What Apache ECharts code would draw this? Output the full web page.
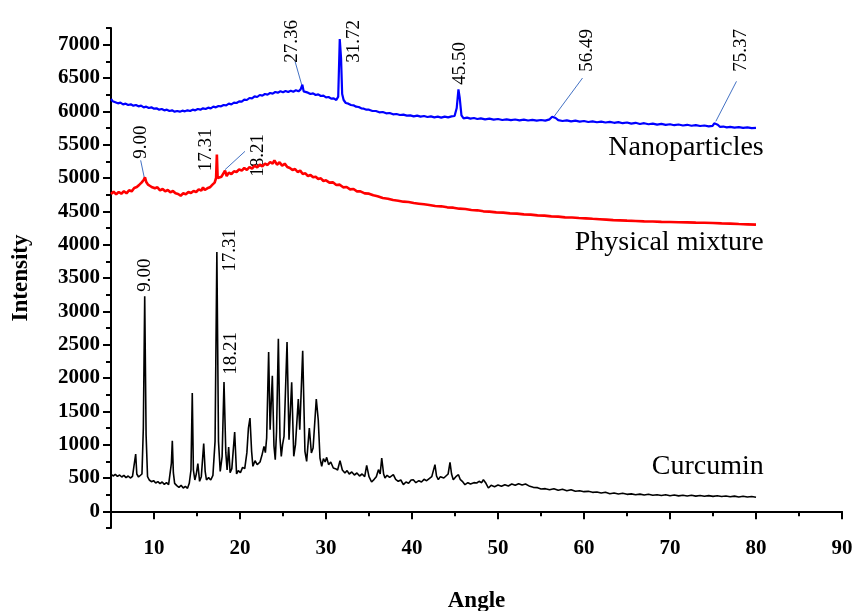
<!DOCTYPE html>
<html>
<head>
<meta charset="utf-8">
<script src="https://cdn.jsdelivr.net/npm/echarts@6/dist/echarts.min.js"></script>
<style>
  html, body { margin: 0; padding: 0; background: #fff; }
  #chart { width: 853px; height: 611px; }
</style>
</head>
<body>
<div id="chart"></div>
<script>
// XRD patterns: [angle, intensity]
const curcumin = [
  [5.0,560],[5.25,530],[5.5,555],[5.75,525],[6.0,545],[6.25,515],[6.5,540],[6.75,505],[7.0,530],[7.25,500],[7.5,525],[7.7,540],[7.87,860],[8.0,560],[8.2,515],[8.4,495],[8.6,560],[8.76,1250],[8.92,3225],[9.08,1150],[9.25,520],[9.45,470],[9.7,445],[9.95,460],[10.2,425],[10.45,445],[10.7,415],[10.95,440],[11.2,405],[11.45,430],[11.7,400],[11.9,430],[12.02,720],[12.13,1060],[12.25,580],[12.4,420],[12.65,385],[12.9,360],[13.15,390],[13.4,350],[13.65,375],[13.9,345],[14.1,420],[14.3,620],[14.45,1775],[14.58,620],[14.75,470],[14.92,560],[15.1,715],[15.3,450],[15.5,520],[15.78,1015],[15.95,600],[16.1,470],[16.35,505],[16.6,470],[16.85,540],[17.1,1050],[17.31,3890],[17.5,1050],[17.7,600],[17.92,820],[18.14,1940],[18.35,880],[18.5,620],[18.68,965],[18.85,580],[19.05,640],[19.38,1190],[19.6,560],[19.8,610],[20.05,580],[20.3,660],[20.55,640],[20.8,880],[20.98,1250],[21.16,1400],[21.35,900],[21.5,675],[21.75,760],[22.0,700],[22.33,740],[22.55,840],[22.79,975],[22.95,880],[23.1,1100],[23.33,2390],[23.5,1225],[23.76,2035],[23.95,980],[24.1,775],[24.25,1200],[24.46,2590],[24.65,1100],[24.8,825],[24.95,1000],[25.12,1125],[25.47,2540],[25.7,1075],[26.01,1935],[26.25,825],[26.45,1000],[26.78,1685],[26.95,1225],[27.29,2410],[27.55,900],[27.75,750],[28.06,1250],[28.3,875],[28.5,950],[28.87,1685],[29.1,1370],[29.3,800],[29.5,675],[29.7,790],[29.9,740],[30.08,810],[30.3,700],[30.55,740],[30.85,650],[31.1,640],[31.35,620],[31.63,760],[31.9,620],[32.2,575],[32.45,610],[32.7,560],[33.0,590],[33.3,545],[33.6,575],[33.9,530],[34.2,560],[34.5,520],[34.73,690],[35.0,520],[35.3,440],[35.6,480],[35.85,520],[36.1,625],[36.3,560],[36.48,800],[36.7,560],[36.86,500],[37.1,540],[37.4,510],[37.83,550],[38.1,480],[38.4,450],[38.7,470],[39.0,400],[39.3,440],[39.6,420],[39.9,470],[40.15,475],[40.45,430],[40.8,460],[41.1,440],[41.4,480],[41.7,460],[42.0,490],[42.3,520],[42.67,700],[42.85,530],[43.06,475],[43.3,520],[43.45,550],[43.7,500],[43.95,530],[44.2,560],[44.42,735],[44.6,560],[44.8,475],[45.1,520],[45.4,550],[45.6,480],[45.85,450],[46.16,400],[46.5,430],[46.8,410],[47.2,430],[47.52,425],[47.8,450],[48.1,430],[48.3,475],[48.6,420],[48.88,350],[49.2,390],[49.6,370],[50.0,395],[50.4,375],[50.8,400],[51.2,380],[51.6,410],[52.0,390],[52.4,415],[52.8,395],[53.2,410],[53.7,375],[54.1,360],[54.6,355],[55.0,335],[55.5,340],[56.0,325],[56.5,340],[57.0,315],[57.5,330],[58.0,310],[58.5,325],[59.0,300],[59.5,310],[60.0,295],[60.5,300],[61.0,285],[61.5,290],[62.0,275],[62.5,285],[63.0,265],[63.5,275],[64.0,260],[64.5,270],[65.0,255],[65.5,262],[66.0,248],[66.5,258],[67.0,245],[67.5,255],[68.0,240],[68.5,250],[69.0,238],[69.5,248],[70.0,235],[70.5,245],[71.0,232],[71.5,242],[72.0,230],[72.5,240],[73.0,228],[73.5,238],[74.0,226],[74.5,236],[75.0,224],[75.5,234],[76.0,222],[76.5,230],[77.0,218],[77.5,228],[78.0,216],[78.5,226],[79.0,214],[79.5,222],[80.0,212]
];
const physicalMixture = [
  [5.0,4760],[5.3,4795],[5.6,4755],[5.9,4790],[6.2,4765],[6.5,4800],[6.8,4770],[7.1,4815],[7.4,4800],[7.7,4850],[8.0,4865],[8.3,4900],[8.55,4930],[8.8,4970],[8.95,5010],[9.1,4940],[9.3,4900],[9.55,4880],[9.8,4860],[10.1,4845],[10.4,4860],[10.7,4815],[11.0,4835],[11.3,4800],[11.6,4820],[11.9,4785],[12.2,4805],[12.5,4770],[12.8,4760],[13.1,4735],[13.4,4770],[13.7,4755],[14.0,4790],[14.3,4775],[14.6,4805],[14.9,4790],[15.2,4830],[15.5,4810],[15.7,4860],[15.9,4820],[16.2,4845],[16.5,4860],[16.8,4900],[17.05,4930],[17.22,5000],[17.31,5350],[17.4,5000],[17.6,4970],[17.85,5020],[18.05,5000],[18.26,5110],[18.45,5030],[18.7,5080],[19.0,5060],[19.3,5100],[19.6,5090],[19.9,5130],[20.2,5110],[20.5,5150],[20.8,5120],[21.1,5165],[21.4,5140],[21.7,5185],[22.0,5160],[22.3,5200],[22.6,5175],[22.9,5215],[23.2,5195],[23.5,5240],[23.8,5215],[24.0,5265],[24.3,5200],[24.6,5235],[24.9,5185],[25.2,5215],[25.5,5165],[25.8,5150],[26.1,5120],[26.4,5135],[26.7,5090],[27.0,5110],[27.3,5060],[27.6,5070],[27.9,5030],[28.2,5045],[28.5,5010],[28.8,5020],[29.1,4985],[29.4,4995],[29.7,4955],[30.0,4965],[30.4,4930],[30.8,4935],[31.2,4895],[31.6,4900],[32.0,4860],[32.4,4865],[32.8,4830],[33.2,4835],[33.6,4800],[34.0,4800],[34.5,4770],[35.0,4765],[35.5,4740],[36.0,4725],[36.6,4700],[37.2,4690],[37.8,4670],[38.4,4660],[39.0,4645],[39.6,4640],[40.2,4625],[40.8,4615],[41.4,4605],[42.0,4595],[42.7,4580],[43.4,4575],[44.1,4560],[44.8,4555],[45.5,4540],[46.2,4535],[46.9,4520],[47.6,4515],[48.3,4500],[49.0,4495],[49.8,4485],[50.6,4480],[51.4,4470],[52.2,4465],[53.0,4455],[53.8,4450],[54.6,4440],[55.4,4435],[56.2,4425],[57.0,4420],[57.8,4410],[58.6,4408],[59.4,4400],[60.2,4395],[61.0,4388],[61.8,4382],[62.6,4375],[63.4,4368],[64.2,4365],[65.0,4360],[66.0,4355],[67.0,4350],[68.0,4348],[69.0,4342],[70.0,4340],[71.0,4336],[72.0,4334],[73.0,4330],[74.0,4328],[75.0,4325],[76.0,4320],[77.0,4316],[78.0,4310],[79.0,4305],[80.0,4300]
];
const nanoparticles = [
  [5.0,6185],[5.2,6150],[5.5,6135],[5.8,6120],[6.1,6130],[6.4,6105],[6.7,6115],[7.0,6095],[7.3,6105],[7.6,6085],[7.9,6095],[8.2,6075],[8.5,6085],[8.8,6060],[9.1,6070],[9.4,6050],[9.7,6060],[10.0,6040],[10.3,6045],[10.6,6025],[10.9,6035],[11.2,6015],[11.5,6025],[11.8,6005],[12.1,6015],[12.4,5995],[12.7,6005],[13.0,5995],[13.3,6010],[13.6,6000],[13.9,6015],[14.2,6005],[14.5,6025],[14.8,6015],[15.1,6035],[15.4,6025],[15.7,6045],[16.0,6035],[16.3,6055],[16.6,6045],[16.9,6070],[17.2,6060],[17.5,6080],[17.8,6075],[18.1,6095],[18.4,6090],[18.7,6115],[19.0,6105],[19.3,6130],[19.6,6125],[19.9,6150],[20.2,6145],[20.5,6175],[20.8,6170],[21.1,6200],[21.4,6195],[21.7,6225],[22.0,6215],[22.3,6245],[22.6,6235],[22.9,6260],[23.2,6250],[23.5,6275],[23.8,6265],[24.1,6290],[24.4,6280],[24.7,6300],[25.0,6285],[25.3,6305],[25.6,6290],[25.9,6310],[26.2,6295],[26.5,6315],[26.8,6300],[27.05,6330],[27.25,6400],[27.4,6300],[27.6,6270],[27.9,6280],[28.2,6260],[28.5,6270],[28.8,6245],[29.1,6255],[29.4,6230],[29.7,6235],[30.0,6210],[30.3,6215],[30.6,6190],[30.9,6195],[31.2,6170],[31.42,6220],[31.6,7085],[31.75,6800],[31.88,6260],[32.05,6170],[32.3,6125],[32.6,6115],[32.9,6095],[33.2,6090],[33.5,6070],[33.8,6065],[34.1,6045],[34.4,6040],[34.7,6025],[35.0,6025],[35.4,6005],[35.8,6005],[36.2,5985],[36.6,5990],[37.0,5970],[37.4,5975],[37.8,5955],[38.2,5960],[38.6,5945],[39.0,5950],[39.4,5935],[39.8,5940],[40.2,5925],[40.6,5935],[41.0,5920],[41.4,5930],[41.8,5915],[42.2,5925],[42.6,5910],[43.0,5920],[43.4,5905],[43.8,5920],[44.2,5910],[44.6,5925],[44.95,5930],[45.2,6050],[45.4,6330],[45.55,6200],[45.75,5940],[46.0,5895],[46.4,5905],[46.8,5890],[47.2,5900],[47.6,5885],[48.0,5895],[48.5,5880],[49.0,5890],[49.5,5875],[50.0,5885],[50.5,5870],[51.0,5880],[51.5,5868],[52.0,5878],[52.5,5865],[53.0,5875],[53.5,5862],[54.0,5872],[54.5,5860],[55.0,5870],[55.5,5860],[56.0,5880],[56.3,5920],[56.5,5950],[56.7,5900],[57.0,5868],[57.5,5855],[58.0,5865],[58.5,5850],[59.0,5860],[59.5,5845],[60.0,5855],[60.5,5840],[61.0,5850],[61.5,5836],[62.0,5846],[62.5,5832],[63.0,5842],[63.5,5828],[64.0,5838],[64.5,5822],[65.0,5832],[65.5,5815],[66.0,5828],[66.5,5810],[67.0,5822],[67.5,5806],[68.0,5816],[68.5,5800],[69.0,5812],[69.5,5796],[70.0,5806],[70.5,5792],[71.0,5802],[71.5,5788],[72.0,5798],[72.5,5784],[73.0,5794],[73.5,5780],[74.0,5788],[74.5,5774],[74.95,5782],[75.15,5820],[75.35,5850],[75.55,5800],[75.8,5768],[76.2,5772],[76.6,5760],[77.0,5768],[77.5,5756],[78.0,5764],[78.5,5752],[79.0,5760],[79.5,5748],[80.0,5752]
];

// tick values
const xMajorTicks = [10, 20, 30, 40, 50, 60, 70, 80, 90];
const xMinorTicks = [5, 15, 25, 35, 45, 55, 65, 75, 85];
const yMajorTicks = [0, 500, 1000, 1500, 2000, 2500, 3000, 3500, 4000, 4500, 5000, 5500, 6000, 6500, 7000];
const yMinorTicks = [-250, 250, 750, 1250, 1750, 2250, 2750, 3250, 3750, 4250, 4750, 5250, 5750, 6250, 6750, 7250];

// peak labels: [angle of label centre, intensity at label start, text]
const peakLabels = [
  [9.0, 3295, '9.00'], [18.84, 3595, '17.31'], [18.9, 2050, '18.21'],
  [8.47, 5290, '9.00'], [16.0, 5100, '17.31'], [22.1, 5020, '18.21'],
  [26.1, 6730, '27.36'], [33.3, 6730, '31.72'], [45.6, 6400, '45.50'],
  [60.3, 6595, '56.49'], [78.3, 6595, '75.37']
];
// leader lines from a label to its peak
const leaders = [
  [[8.45, 5265], [8.88, 5000]],
  [[20.58, 5400], [18.26, 5125]],
  [[26.4, 6750], [27.17, 6400]],
  [[59.83, 6500], [56.53, 5925]],
  [[77.73, 6450], [75.33, 5850]]
];
// sample names, right aligned
const sampleNames = [
  [80.9, 5455, 'Nanoparticles'],
  [80.9, 4030, 'Physical mixture'],
  [80.9, 670, 'Curcumin']
];

const font = 'Liberation Serif';
const chart = echarts.init(document.getElementById('chart'));

const option = {
  animation: false,
  backgroundColor: '#fff',
  grid: { left: 111, right: 11, top: 28, bottom: 83, containLabel: false, outerBoundsMode: 'none' },
  xAxis: [{
    type: 'value', min: 5, max: 90,
    name: 'Angle', nameLocation: 'middle', nameGap: 62,
    nameTextStyle: { fontFamily: font, fontWeight: 'bold', fontSize: 23, color: '#000' },
    axisLine: { lineStyle: { color: '#000', width: 2 } },
    axisTick: { length: 8, lineStyle: { color: '#000', width: 2 }, customValues: xMajorTicks },
    axisLabel: { customValues: xMajorTicks, margin: 10, fontFamily: font, fontWeight: 'bold', fontSize: 21, color: '#000' },
    splitLine: { show: false }
  }, {
    // short ticks between the labelled ones
    type: 'value', min: 5, max: 90, position: 'bottom',
    axisLine: { show: false },
    axisTick: { length: 5, lineStyle: { color: '#000', width: 2 }, customValues: xMinorTicks },
    axisLabel: { show: false },
    splitLine: { show: false }
  }],
  yAxis: [{
    type: 'value', min: -250, max: 7250,
    name: 'Intensity', nameLocation: 'middle', nameGap: 78,
    nameTextStyle: { fontFamily: font, fontWeight: 'bold', fontSize: 23, color: '#000' },
    axisLine: { show: true, lineStyle: { color: '#000', width: 2 } },
    axisTick: { show: true, length: 8, lineStyle: { color: '#000', width: 2 }, customValues: yMajorTicks },
    axisLabel: {
      customValues: yMajorTicks, margin: 11, formatter: v => String(v),
      fontFamily: font, fontWeight: 'bold', fontSize: 21, color: '#000'
    },
    splitLine: { show: false }
  }, {
    type: 'value', min: -250, max: 7250, position: 'left',
    axisLine: { show: false },
    axisTick: { show: true, length: 5, lineStyle: { color: '#000', width: 2 }, customValues: yMinorTicks },
    axisLabel: { show: false },
    splitLine: { show: false }
  }],
  series: [
    { name: 'Curcumin', type: 'line', data: curcumin, showSymbol: false, lineStyle: { color: '#000', width: 1.6 } },
    { name: 'Physical mixture', type: 'line', data: physicalMixture, showSymbol: false, lineStyle: { color: '#ff0000', width: 2.6 } },
    { name: 'Nanoparticles', type: 'line', data: nanoparticles, showSymbol: false, lineStyle: { color: '#0000ff', width: 2.2 } },
    {
      type: 'lines', coordinateSystem: 'cartesian2d', silent: true,
      lineStyle: { color: '#4472c4', width: 1, opacity: 1 },
      data: leaders.map(c => ({ coords: c }))
    },
    {
      type: 'scatter', symbolSize: 0, silent: true,
      itemStyle: { opacity: 1 },
      data: peakLabels,
      label: {
        show: true, position: 'top', distance: 0, rotate: 90, align: 'left', verticalAlign: 'middle',
        formatter: p => p.data[2],
        fontFamily: font, fontSize: 19, color: '#000', textBorderWidth: 0
      }
    },
    {
      type: 'scatter', symbolSize: 0, silent: true,
      itemStyle: { opacity: 1 },
      data: sampleNames,
      label: {
        show: true, position: 'top', distance: 0, align: 'right', verticalAlign: 'middle',
        formatter: p => p.data[2],
        fontFamily: font, fontSize: 28, color: '#000', textBorderWidth: 0
      }
    }
  ]
};
chart.setOption(option);
</script>
</body>
</html>
